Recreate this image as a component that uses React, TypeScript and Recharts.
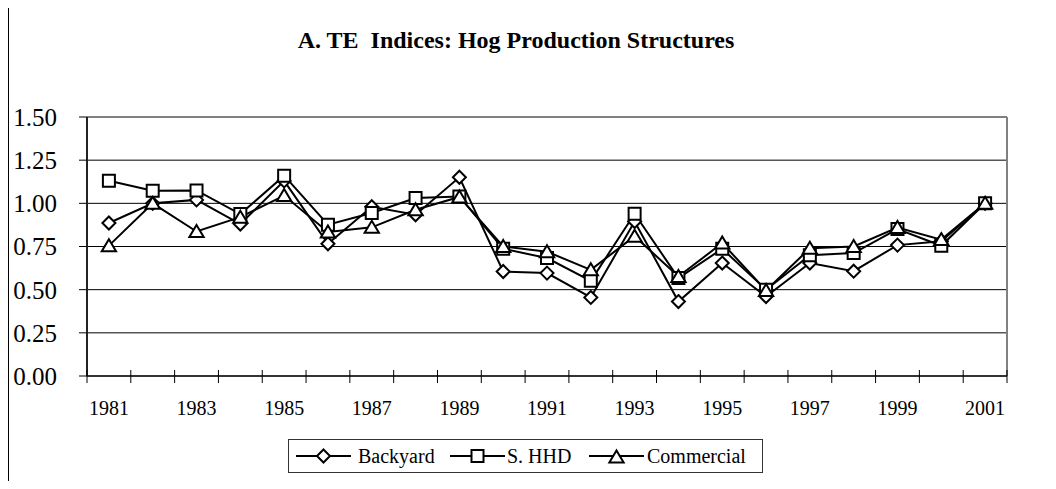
import React from 'react';
import { LineChart, Line, XAxis, YAxis, CartesianGrid, ReferenceLine } from 'recharts';

const years = [1981, 1982, 1983, 1984, 1985, 1986, 1987, 1988, 1989, 1990, 1991, 1992, 1993, 1994, 1995, 1996, 1997, 1998, 1999, 2000, 2001];
const backyard = [0.886, 1.0, 1.02, 0.88, 1.13, 0.766, 0.98, 0.934, 1.151, 0.605, 0.596, 0.455, 0.895, 0.431, 0.654, 0.46, 0.654, 0.607, 0.758, 0.78, 1.0];
const shhd = [1.131, 1.073, 1.075, 0.938, 1.16, 0.876, 0.944, 1.031, 1.04, 0.737, 0.683, 0.551, 0.94, 0.567, 0.737, 0.5, 0.7, 0.712, 0.851, 0.754, 1.0];
const commercial = [0.755, 1.0, 0.837, 0.92, 1.045, 0.834, 0.861, 0.963, 1.037, 0.75, 0.72, 0.615, 0.81, 0.576, 0.77, 0.495, 0.74, 0.75, 0.86, 0.79, 1.0];
const yTicks = [0, 0.25, 0.5, 0.75, 1.0, 1.25, 1.5];
const gridValues = [0.25, 0.5, 0.75, 1.0, 1.25];
const labelYears = [1981, 1983, 1985, 1987, 1989, 1991, 1993, 1995, 1997, 1999, 2001];
const boundaryTicks = [1980.5, 1981.5, 1982.5, 1983.5, 1984.5, 1985.5, 1986.5, 1987.5, 1988.5, 1989.5, 1990.5, 1991.5, 1992.5, 1993.5, 1994.5, 1995.5, 1996.5, 1997.5, 1998.5, 1999.5, 2000.5, 2001.5];
const seriesNames = ['Backyard', 'S. HHD', 'Commercial'];
const title = 'A. TE  Indices: Hog Production Structures';

const data = years.map((y, i) => ({ year: y, backyard: backyard[i], shhd: shhd[i], commercial: commercial[i] }));
const allXTicks = [...boundaryTicks, ...labelYears].sort((a, b) => a - b);

const FONT = '"Liberation Serif", "Times New Roman", serif';

const shapePath = (kind: string, cx: number, cy: number, s: number) => {
  if (kind === 'diamond') return `M${cx},${cy - s} L${cx + s},${cy} L${cx},${cy + s} L${cx - s},${cy} Z`;
  if (kind === 'square') return `M${cx - s},${cy - s} L${cx + s},${cy - s} L${cx + s},${cy + s} L${cx - s},${cy + s} Z`;
  return `M${cx},${cy - s} L${cx + s * 1.1},${cy + s * 0.85} L${cx - s * 1.1},${cy + s * 0.85} Z`;
};

const makeDot = (kind: string, s: number) => (props: any) => {
  const { cx, cy, index } = props;
  if (cx == null || cy == null) return <g key={`${kind}-${index}`} />;
  return <path key={`${kind}-${index}`} d={shapePath(kind, cx, cy, s)} fill="#fff" stroke="#000" strokeWidth={2} />;
};

const kinds = ['diamond', 'square', 'triangle'];

const XTick = (props: any) => {
  const { x, y, payload } = props;
  const v = payload.value as number;
  if (boundaryTicks.includes(v)) {
    return <line x1={x} x2={x} y1={y - 6} y2={y + 7} stroke="#000" strokeWidth={1} />;
  }
  return (
    <text x={x} y={y + 39} textAnchor="middle" fontSize={20} fill="#000" fontFamily={FONT}>
      {String(v)}
    </text>
  );
};

const LegendIcon = ({ kind }: { kind: string }) => (
  <svg width={55} height={20} style={{ display: 'block', flex: 'none' }}>
    <line x1={0} y1={10} x2={55} y2={10} stroke="#000" strokeWidth={2} />
    <path d={shapePath(kind, 27.5, kind === 'triangle' ? 11 : 10, kind === 'square' ? 6 : 6.5)} fill="#fff" stroke="#000" strokeWidth={2} />
  </svg>
);

const itemWidths = [154, 139, 170];
const textGaps = [7, 2, 3];

export default function App() {
  return (
    <div style={{ position: 'relative', width: 1048, height: 473, fontFamily: FONT }}>
      <div style={{ position: 'absolute', left: 0, top: -2, width: 1048, height: 2, background: '#444' }} />
      <div style={{ position: 'absolute', left: 0, top: -2, width: 1, height: 483, background: '#000' }} />
      <div style={{ position: 'absolute', left: 1, top: 20, width: 1014, textAlign: 'center', fontSize: 24, lineHeight: '24px', fontWeight: 'bold', color: '#000', whiteSpace: 'pre', fontFamily: FONT }}>{title}</div>
      <div style={{ position: 'absolute', left: 1, top: 0, width: 1047, height: 481 }}>
        <LineChart width={1047} height={481} data={data} margin={{ top: 109, right: 49, left: 0, bottom: 63 }}>
          <CartesianGrid horizontal vertical={false} horizontalValues={gridValues} stroke="#000" strokeWidth={1} />
          <XAxis
            dataKey="year"
            type="number"
            domain={[1980.5, 2001.5]}
            ticks={allXTicks}
            interval={0}
            tick={<XTick />}
            height={50}
            tickSize={0}
            tickMargin={0}
            axisLine={{ stroke: '#333', strokeWidth: 2 }}
            tickLine={false}
            allowDataOverflow
          />
          <YAxis
            type="number"
            domain={[0, 1.5]}
            ticks={yTicks}
            width={78}
            tickSize={8}
            tickMargin={22}
            tickFormatter={(v: number) => v.toFixed(2)}
            tick={{ fontSize: 25, fill: '#000', fontFamily: FONT }}
            axisLine={{ stroke: '#222', strokeWidth: 2 }}
            tickLine={{ stroke: '#000', strokeWidth: 1 }}
          />
          <ReferenceLine y={1.5} stroke="#808080" strokeWidth={2} />
          <ReferenceLine x={2001.5} stroke="#808080" strokeWidth={2} />
          <Line dataKey="backyard" name={seriesNames[0]} stroke="#000" strokeWidth={2} dot={makeDot('diamond', 6.5)} isAnimationActive={false} />
          <Line dataKey="shhd" name={seriesNames[1]} stroke="#000" strokeWidth={2} dot={makeDot('square', 6)} isAnimationActive={false} />
          <Line dataKey="commercial" name={seriesNames[2]} stroke="#000" strokeWidth={2} dot={makeDot('triangle', 6.5)} isAnimationActive={false} />
        </LineChart>
      </div>
      <div style={{ position: 'absolute', left: 280, top: 431, width: 475, height: 34, boxSizing: 'border-box', border: '1px solid #333', display: 'flex', alignItems: 'center', paddingLeft: 7, fontSize: 20, color: '#000', whiteSpace: 'nowrap', background: '#fff' }}>
        {seriesNames.map((n, i) => (
          <div key={n} style={{ display: 'flex', alignItems: 'center', width: itemWidths[i], flex: 'none' }}>
            <LegendIcon kind={kinds[i]} />
            <span style={{ marginLeft: textGaps[i], lineHeight: '20px' }}>{n}</span>
          </div>
        ))}
      </div>
    </div>
  );
}
